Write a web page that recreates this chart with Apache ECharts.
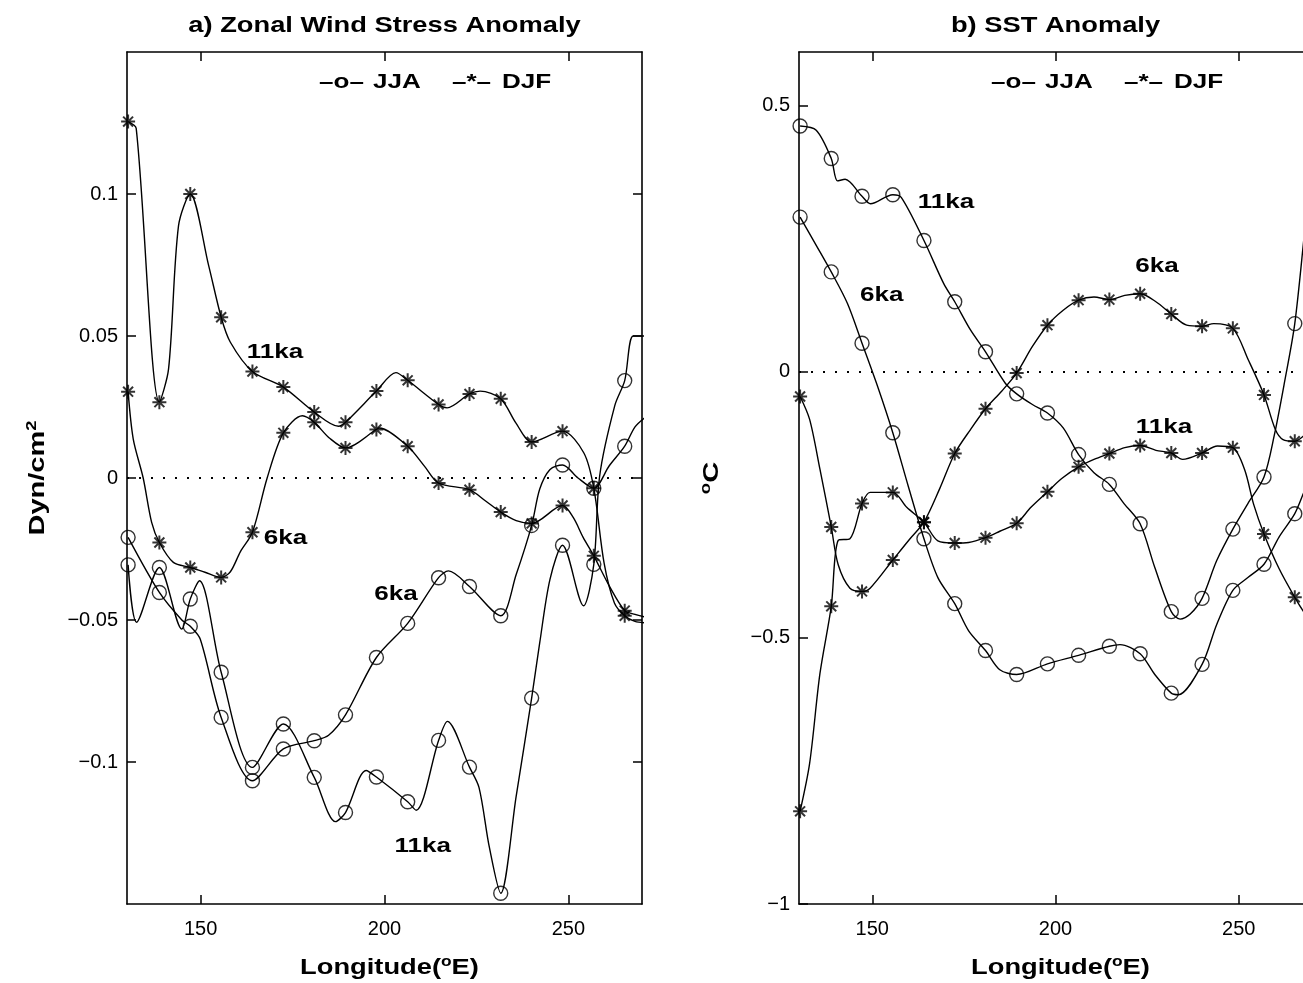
<!DOCTYPE html>
<html>
<head>
<meta charset="utf-8">
<title>Zonal wind stress and SST anomaly</title>
<script src="https://cdn.jsdelivr.net/npm/echarts@6/dist/echarts.min.js"></script>
<style>
  html, body { margin: 0; padding: 0; background: #fff; }
  #chart { width: 1303px; height: 983px; }
</style>
</head>
<body>
<div id="chart"></div>
<script>
// longitudes that carry a marker (every third grid point)
const markerLon = [130.3, 138.8, 147.2, 155.6, 164.1, 172.5, 180.9, 189.4, 197.8, 206.3, 214.7, 223.1, 231.6, 240.0, 248.4, 256.9, 265.3];
const lonTicks = [150, 200, 250];
const tauTicks = [-0.1, -0.05, 0, 0.05, 0.1];
const sstTicks = [-1, -0.5, 0, 0.5];

// a) zonal wind stress anomaly (dyn/cm2): values at markers + points in between
const tauJja6 = [-0.0209, -0.0403, -0.0522, -0.0843, -0.1066, -0.0954, -0.0925, -0.0834, -0.0632, -0.0512, -0.0351, -0.0382, -0.0485, -0.0167, 0.0046, -0.0036, 0.0112];
const tauJja6Mid = [[144.9, -0.0500], [149.9, -0.0567], [184.8, -0.0906], [217.4, -0.0327], [235.8, -0.0340], [242.2, -0.0039], [245.0, 0.0030], [252.6, 0.0000], [261.1, 0.0043], [268.1, 0.0180], [271.0, 0.0215]];
const tauJja11 = [-0.0306, -0.0315, -0.0426, -0.0684, -0.1019, -0.0866, -0.1054, -0.1178, -0.1053, -0.1140, -0.0924, -0.1018, -0.1462, -0.0775, -0.0237, -0.0304, 0.0343];
const tauJja11Mid = [[132.6, -0.0508], [144.9, -0.0532], [149.7, -0.0362], [186.7, -0.1210], [195.0, -0.1030], [208.6, -0.1170], [217.1, -0.0857], [225.7, -0.1090], [228.5, -0.1300], [235.8, -0.1120], [242.2, -0.0580], [245.0, -0.0356], [254.1, -0.0450], [258.5, 0.0008], [262.6, 0.0255], [267.6, 0.0500], [271.0, 0.0500]];
const tauDjf6 = [0.0304, -0.0227, -0.0315, -0.0350, -0.0191, 0.0159, 0.0196, 0.0106, 0.0171, 0.0112, -0.0018, -0.0041, -0.0120, -0.0160, -0.0097, -0.0274, -0.0467];
const tauDjf6Mid = [[131.7, 0.0137], [134.4, 0.0000], [136.7, -0.0156], [142.6, -0.0297], [151.2, -0.0332], [158.1, -0.0330], [160.8, -0.0260], [168.1, 0.0000], [177.7, 0.0219], [185.0, 0.0141], [198.5, 0.0176], [210.9, 0.0041], [227.4, -0.0080], [235.8, -0.0150], [251.3, -0.0139], [254.0, -0.0209], [261.1, -0.0380], [268.1, -0.0480], [271.0, -0.0490]];
const tauDjf11 = [0.1255, 0.0267, 0.1000, 0.0566, 0.0375, 0.0320, 0.0232, 0.0196, 0.0306, 0.0344, 0.0259, 0.0296, 0.0279, 0.0127, 0.0165, -0.0036, -0.0485];
const tauDjf11Mid = [[132.5, 0.1231], [141.3, 0.0384], [144.0, 0.0888], [152.2, 0.0748], [158.1, 0.0478], [187.5, 0.0182], [203.1, 0.0371], [217.0, 0.0247], [226.0, 0.0306], [235.7, 0.0194], [254.2, 0.0088], [259.7, -0.0300], [262.5, -0.0440], [268.1, -0.0505], [271.0, -0.0510]];
const tauLabels = [[170.2, 0.0444, '11ka'], [173.1, -0.0212, '6ka'], [203.1, -0.0408, '6ka'], [210.4, -0.1296, '11ka']];

// b) SST anomaly (deg C)
const sstJja6 = [0.290, 0.187, 0.053, -0.115, -0.314, -0.436, -0.524, -0.569, -0.549, -0.533, -0.516, -0.530, -0.604, -0.550, -0.411, -0.362, -0.267];
const sstJja6Mid = [[134.7, 0.237], [143.2, 0.128], [151.6, -0.031], [159.8, -0.215], [167.9, -0.387], [176.3, -0.487], [184.8, -0.560], [217.6, -0.513], [227.1, -0.569], [233.5, -0.607], [244.0, -0.475], [252.5, -0.387], [261.0, -0.311], [268.2, -0.220], [271.0, -0.180]];
const sstJja11 = [0.461, 0.400, 0.329, 0.332, 0.246, 0.131, 0.037, -0.042, -0.078, -0.156, -0.212, -0.286, -0.451, -0.426, -0.296, -0.198, 0.090];
const sstJja11Mid = [[134.7, 0.453], [140.5, 0.358], [142.6, 0.361], [149.5, 0.315], [157.9, 0.327], [169.5, 0.165], [176.8, 0.078], [186.3, -0.022], [193.7, -0.062], [202.1, -0.106], [210.5, -0.190], [218.7, -0.248], [227.1, -0.368], [234.0, -0.465], [236.7, -0.456], [244.0, -0.355], [252.5, -0.248], [259.7, -0.120], [262.5, -0.020], [268.1, 0.270], [271.0, 0.450]];
const sstDjf6 = [-0.047, -0.292, -0.413, -0.354, -0.283, -0.154, -0.070, -0.003, 0.087, 0.134, 0.135, 0.146, 0.108, 0.085, 0.081, -0.044, -0.131];
const sstDjf6Mid = [[132.9, -0.090], [135.7, -0.183], [140.7, -0.363], [143.9, -0.407], [149.4, -0.407], [160.3, -0.314], [168.4, -0.220], [176.8, -0.109], [185.3, -0.037], [193.7, 0.047], [202.1, 0.115], [210.5, 0.140], [218.9, 0.143], [227.4, 0.131], [235.8, 0.087], [243.2, 0.090], [252.6, 0.022], [260.0, -0.109], [262.1, -0.128], [268.2, -0.118], [271.0, -0.100]];
const sstDjf11 = [-0.826, -0.441, -0.248, -0.227, -0.283, -0.322, -0.312, -0.285, -0.226, -0.179, -0.154, -0.139, -0.153, -0.153, -0.143, -0.305, -0.424];
const sstDjf11Mid = [[132.9, -0.736], [135.7, -0.568], [140.7, -0.317], [143.9, -0.314], [149.4, -0.227], [159.4, -0.255], [167.9, -0.318], [176.3, -0.321], [184.8, -0.300], [193.3, -0.255], [201.7, -0.201], [210.5, -0.165], [218.9, -0.143], [227.4, -0.148], [234.7, -0.165], [244.2, -0.140], [251.6, -0.184], [254.1, -0.250], [261.0, -0.370], [268.2, -0.456], [271.0, -0.480]];
const sstLabels = [[170.1, 0.317, '11ka'], [152.6, 0.144, '6ka'], [227.7, 0.197, '6ka'], [229.6, -0.104, '11ka']];

const panels = [
  { left: 127, top: 52, width: 515, height: 852, title: 'a) Zonal Wind Stress Anomaly', yName: '{t|Dyn/cm}{s|2}', yNameX: 38 },
  { left: 799, top: 52, width: 513, height: 852, title: 'b) SST Anomaly', yName: '{s|o}{t|C}', yNameX: 712 }
];

const FONT = 'Liberation Sans';
const WIDE = 1.24; // the original lettering is wider than Helvetica
const circleMark = 'circle';
const starMark = 'path://M0,-10L0,10M-10,0L10,0M-7.1,-7.1L7.1,7.1M-7.1,7.1L7.1,-7.1';

const rich = {
  t: { fontFamily: FONT, fontWeight: 'bold', fontSize: 22, lineHeight: 26, fill: '#000' },
  s: { fontFamily: FONT, fontWeight: 'bold', fontSize: 14, lineHeight: 14, verticalAlign: 'top', fill: '#000' }
};

function boldText(txt, x, y, align, size, rot) {
  return {
    type: 'text', x: x, y: y, rotation: rot || 0, scaleX: rot ? 1.32 : WIDE, silent: true,
    style: {
      text: txt, rich: rich, fill: '#000', align: align, verticalAlign: 'middle',
      font: 'bold ' + size + 'px "' + FONT + '"'
    }
  };
}

function joinPts(vals, mid) {
  return markerLon.map((x, i) => [x, vals[i]]).concat(mid).sort((a, b) => a[0] - b[0]);
}

function curve(g, vals, mid, mark) {
  const isCircle = mark === circleMark;
  return [
    {
      type: 'line', xAxisIndex: g * 2, yAxisIndex: g * 2,
      data: joinPts(vals, mid), symbol: 'none', smooth: 0.3,
      lineStyle: { color: '#000', width: 1.4 }, silent: true, z: 2
    },
    {
      type: 'scatter', xAxisIndex: g * 2, yAxisIndex: g * 2,
      data: markerLon.map((x, i) => [x, vals[i]]),
      symbol: mark, symbolSize: isCircle ? 14 : 14,
      itemStyle: { color: 'rgba(0,0,0,0)', borderColor: '#000', borderWidth: isCircle ? 1.4 : 2 },
      silent: true, z: 3
    }
  ];
}

function zeroLine(g) {
  return {
    type: 'line', xAxisIndex: g * 2, yAxisIndex: g * 2, data: [], silent: true,
    markLine: {
      silent: true, symbol: ['none', 'none'], label: { show: false },
      lineStyle: { color: '#000', type: [2, 10], width: 1.8 },
      data: [{ yAxis: 0 }]
    }
  };
}

const axisLine = { show: true, onZero: false, lineStyle: { color: '#000', width: 1.6 } };

function lonAxis(g, pos) {
  return {
    type: 'value', gridIndex: g, position: pos, min: 130, max: 270,
    axisLine: axisLine,
    axisTick: { show: true, inside: true, length: 9, customValues: lonTicks, lineStyle: { color: '#000', width: 1.5 } },
    axisLabel: { show: pos === 'bottom', customValues: lonTicks, margin: 15, color: '#000', fontFamily: FONT, fontSize: 20 },
    splitLine: { show: false }
  };
}

function valAxis(g, pos, min, max, ticks) {
  return {
    type: 'value', gridIndex: g, position: pos, min: min, max: max,
    axisLine: axisLine,
    axisTick: { show: true, inside: true, length: 9, customValues: ticks, lineStyle: { color: '#000', width: 1.5 } },
    axisLabel: {
      show: pos === 'left', customValues: ticks, margin: 9, color: '#000', fontFamily: FONT, fontSize: 20,
      formatter: v => String(Math.round(v * 100) / 100).replace('-', '\u2212')
    },
    splitLine: { show: false }
  };
}

// titles, legend text and axis names
const graphics = [];
const legendParts = [[192, '\u2013o\u2013'], [246, 'JJA'], [325, '\u2013*\u2013'], [375, 'DJF']];
panels.forEach(p => {
  graphics.push(boldText(p.title, p.left + p.width / 2, 26, 'center', 22));
  legendParts.forEach(([dx, txt]) => graphics.push(boldText(txt, p.left + dx, 82, 'left', 21)));
  graphics.push(boldText('{t|Longitude(}{s|o}{t|E)}', p.left + p.width / 2 + 5, 968, 'center', 22));
  graphics.push(boldText(p.yName, p.yNameX, 478, 'center', 22, Math.PI / 2));
});

const chart = echarts.init(document.getElementById('chart'));
chart.setOption({
  animation: false,
  backgroundColor: '#fff',
  grid: panels.map(p => ({ left: p.left, top: p.top, width: p.width, height: p.height, outerBoundsMode: 'none' })),
  xAxis: [lonAxis(0, 'bottom'), lonAxis(0, 'top'), lonAxis(1, 'bottom'), lonAxis(1, 'top')],
  yAxis: [
    valAxis(0, 'left', -0.15, 0.15, tauTicks),
    valAxis(0, 'right', -0.15, 0.15, tauTicks),
    valAxis(1, 'left', -1, 0.6, sstTicks),
    valAxis(1, 'right', -1, 0.6, sstTicks)
  ],
  series: [
    zeroLine(0),
    ...curve(0, tauJja6, tauJja6Mid, circleMark),
    ...curve(0, tauJja11, tauJja11Mid, circleMark),
    ...curve(0, tauDjf6, tauDjf6Mid, starMark),
    ...curve(0, tauDjf11, tauDjf11Mid, starMark),
    zeroLine(1),
    ...curve(1, sstJja6, sstJja6Mid, circleMark),
    ...curve(1, sstJja11, sstJja11Mid, circleMark),
    ...curve(1, sstDjf6, sstDjf6Mid, starMark),
    ...curve(1, sstDjf11, sstDjf11Mid, starMark)
  ]
});

// curve names, placed in data coordinates
[[0, tauLabels], [1, sstLabels]].forEach(([g, list]) => {
  list.forEach(([lon, v, txt]) => {
    const pt = chart.convertToPixel({ xAxisIndex: g * 2, yAxisIndex: g * 2 }, [lon, v]);
    graphics.push(boldText(txt, pt[0], pt[1], 'center', 21));
  });
});
chart.setOption({ graphic: graphics });
</script>
</body>
</html>
